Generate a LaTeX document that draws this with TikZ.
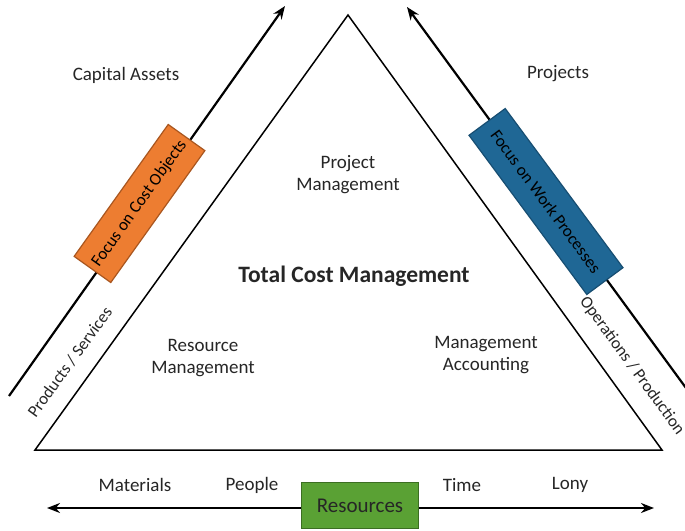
\documentclass[tikz,border=0pt]{standalone}
\usepackage{fontspec}
\setmainfont{Carlito}
\usetikzlibrary{arrows.meta}
\definecolor{orangefill}{HTML}{ED7D31}
\definecolor{orangeline}{HTML}{A9561F}
\definecolor{bluefill}{HTML}{1F6795}
\definecolor{blueline}{HTML}{174E72}
\definecolor{greenfill}{HTML}{5AA134}
\definecolor{greenline}{HTML}{3C6E22}
\definecolor{txt}{HTML}{262626}
\tikzset{
  tri/.style={line width=1.5pt, line join=miter},
  axis/.style={line width=2.2pt, -{Stealth[length=13pt,width=10pt]}},
  axisboth/.style={line width=2.2pt, {Stealth[length=13pt,width=10pt]}-{Stealth[length=13pt,width=10pt]}},
  lbl/.style={text=txt, font=\fontsize{19}{22}\selectfont, align=center, inner sep=0pt},
  slbl/.style={text=txt, font=\fontsize{17}{20}\selectfont, inner sep=0pt},
  focusbox/.style={draw, line width=1.2pt, minimum height=45pt, inner sep=0pt, text=black, font=\fontsize{17}{20}\selectfont},
}
\begin{document}
\begin{tikzpicture}[x=1pt,y=-1pt]
\useasboundingbox[fill=white] (0,0) rectangle (685,530);
% triangle
\coordinate (A) at (348,15);
\coordinate (BL) at (35,450);
\coordinate (BR) at (662,450);
\draw[tri] (A) -- (BL) -- (BR) -- cycle;
% left arrow
\coordinate (L0) at (9,396);
\coordinate (L1) at (285,6);
\draw[axis] (L0) -- (L1);
% right arrow
\coordinate (R0) at (686,388);
\coordinate (R1) at (407,7);
\draw[axis] (R0) -- (R1);
% bottom arrow
\coordinate (B0) at (47,508);
\coordinate (B1) at (654,508);
\draw[axisboth] (B1) -- (B0);
% boxes
\node[focusbox, fill=orangefill, draw=orangeline, minimum width=162pt, rotate=54.5] (cost) at (139.5,203.5) {Focus on Cost Objects};
\node[focusbox, fill=bluefill, draw=blueline, minimum width=198pt, rotate=-53.5] (work) at (546,201.5) {Focus on Work Processes};
\node[draw=greenline, fill=greenfill, line width=1.2pt, minimum width=117pt, minimum height=46pt, inner sep=0pt, text=txt, font=\fontsize{21}{24}\selectfont] (res) at (360,505.5) {Resources};
% labels
\node[lbl] (cap) at (126,75) {Capital Assets};
\node[lbl] (proj) at (558,74) {Projects};
\node[lbl] (pm) at (348,175) {Project\\Management};
\node[lbl, font=\bfseries\fontsize{23.5}{26}\selectfont] (tcm) at (354,276) {Total Cost Management};
\node[lbl] (rm) at (203,358) {Resource\\Management};
\node[lbl] (ma) at (486,355) {Management\\Accounting};
\node[slbl, rotate=54] (ps) at (70,362) {Products / Services};
\node[slbl, rotate=-54] (op) at (632,366) {Operations / Production};
\node[lbl] (mat) at (135,485) {Materials};
\node[lbl] (peo) at (252,485) {People};
\node[lbl] (tim) at (462,485) {Time};
\node[lbl] (lon) at (570,485) {Lony};
\end{tikzpicture}
\end{document}
